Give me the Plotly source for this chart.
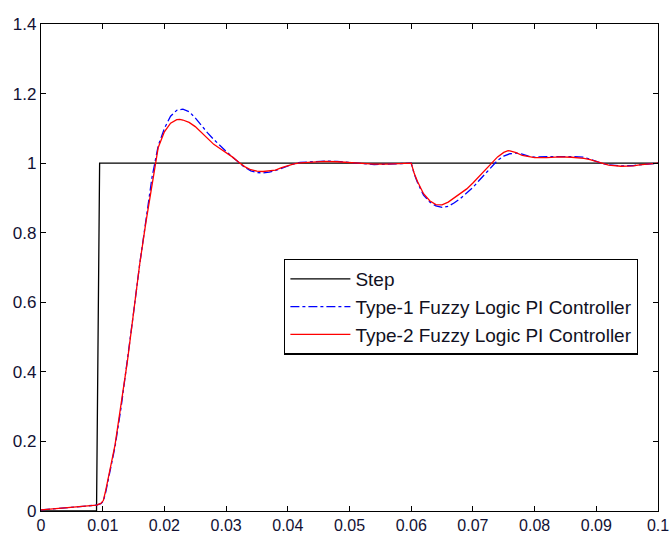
import plotly.graph_objects as go

# ---- data ----
step_t = [0.0, 0.0090, 0.0095, 0.1]
step_v = [0.0, 0.0, 1.0, 1.0]

t2_t = [0.0, 0.005, 0.009, 0.0097, 0.0101, 0.0105, 0.011, 0.012, 0.013, 0.014,
        0.015, 0.016, 0.017, 0.018, 0.0185, 0.019, 0.020, 0.021, 0.022, 0.0225,
        0.023, 0.024, 0.025, 0.026, 0.027, 0.028, 0.029, 0.030, 0.031, 0.032,
        0.033, 0.034, 0.035, 0.036, 0.037, 0.038, 0.039, 0.040, 0.041, 0.042,
        0.044, 0.046, 0.048, 0.050, 0.052, 0.054, 0.056, 0.058, 0.0595, 0.060,
        0.0605, 0.061, 0.062, 0.063, 0.064, 0.0645, 0.065, 0.066, 0.067, 0.068,
        0.069, 0.070, 0.071, 0.072, 0.073, 0.074, 0.075, 0.0757, 0.076, 0.077,
        0.078, 0.079, 0.080, 0.082, 0.084, 0.086, 0.088, 0.089, 0.090, 0.091,
        0.092, 0.094, 0.095, 0.096, 0.097, 0.098, 0.1]
t2_v = [0.003, 0.01, 0.017, 0.022, 0.03, 0.06, 0.10, 0.19, 0.31, 0.43,
        0.57, 0.71, 0.83, 0.94, 1.0, 1.045, 1.09, 1.115, 1.125, 1.126,
        1.124, 1.117, 1.105, 1.088, 1.07, 1.054, 1.042, 1.031, 1.018, 1.003,
        0.99, 0.981, 0.977, 0.976, 0.977, 0.980, 0.987, 0.993, 0.998, 1.001,
        1.004, 1.005, 1.004, 1.001, 0.998, 0.997, 0.997, 0.998, 0.999, 1.0,
        0.97, 0.948, 0.912, 0.892, 0.881, 0.8795, 0.880, 0.888, 0.900, 0.913,
        0.926, 0.943, 0.962, 0.982, 1.002, 1.018, 1.031, 1.036, 1.035, 1.03,
        1.022, 1.018, 1.016, 1.016, 1.018, 1.017, 1.014, 1.01, 1.004, 0.998,
        0.994, 0.991, 0.991, 0.992, 0.995, 0.997, 1.0]

t1_t = [0.0, 0.005, 0.009, 0.0097, 0.0101, 0.0105, 0.011, 0.012, 0.013, 0.014,
        0.015, 0.016, 0.017, 0.018, 0.019, 0.020, 0.021, 0.022, 0.023, 0.024,
        0.025, 0.026, 0.027, 0.028, 0.029, 0.030, 0.031, 0.032, 0.033, 0.034,
        0.035, 0.036, 0.037, 0.038, 0.039, 0.040, 0.041, 0.042, 0.044, 0.046,
        0.048, 0.050, 0.052, 0.054, 0.056, 0.058, 0.0595, 0.060, 0.0605, 0.061,
        0.062, 0.063, 0.064, 0.065, 0.066, 0.067, 0.068, 0.069, 0.070, 0.071,
        0.072, 0.073, 0.074, 0.075, 0.076, 0.077, 0.078, 0.079, 0.080, 0.082,
        0.084, 0.086, 0.088, 0.089, 0.090, 0.091, 0.092, 0.094, 0.095, 0.096,
        0.097, 0.098, 0.1]
t1_v = [0.003, 0.01, 0.017, 0.021, 0.028, 0.055, 0.095, 0.185, 0.30, 0.43,
        0.57, 0.71, 0.84, 0.96, 1.05, 1.10, 1.135, 1.152, 1.155, 1.148,
        1.13, 1.108, 1.087, 1.068, 1.05, 1.034, 1.018, 1.002, 0.988, 0.978,
        0.973, 0.972, 0.974, 0.979, 0.986, 0.993, 0.998, 1.002, 1.005, 1.006,
        1.005, 1.002, 0.998, 0.996, 0.997, 0.998, 0.999, 1.0, 0.968, 0.945,
        0.908, 0.888, 0.877, 0.873, 0.876, 0.886, 0.899, 0.914, 0.93, 0.95,
        0.97, 0.99, 1.008, 1.02, 1.027, 1.029, 1.026, 1.02, 1.017, 1.019,
        1.02, 1.019, 1.017, 1.012, 1.005, 0.999, 0.995, 0.992, 0.992, 0.993,
        0.995, 0.997, 1.0]

x_ticks = [0, 0.01, 0.02, 0.03, 0.04, 0.05, 0.06, 0.07, 0.08, 0.09, 0.1]
x_labels = ["0", "0.01", "0.02", "0.03", "0.04", "0.05", "0.06", "0.07", "0.08", "0.09", "0.1"]
y_ticks = [0, 0.2, 0.4, 0.6, 0.8, 1.0, 1.2, 1.4]
y_labels = ["0", "0.2", "0.4", "0.6", "0.8", "1", "1.2", "1.4"]

FONT = "Liberation Sans, Arial, sans-serif"

fig = go.Figure()
fig.add_trace(go.Scatter(x=step_t, y=step_v, mode="lines", name="Step",
                         line=dict(color="black", width=1.3)))
fig.add_trace(go.Scatter(x=t1_t, y=t1_v, mode="lines", name="Type-1 Fuzzy Logic PI Controller",
                         line=dict(color="#0000ff", width=1.3, dash="dashdot")))
fig.add_trace(go.Scatter(x=t2_t, y=t2_v, mode="lines", name="Type-2 Fuzzy Logic PI Controller",
                         line=dict(color="#ff0000", width=1.3)))

axis_common = dict(showgrid=False, zeroline=False, showline=True, linecolor="black",
                   linewidth=1.3, mirror="allticks", ticks="inside", ticklen=5,
                   tickcolor="black", tickwidth=1.3, automargin=False)

fig.update_xaxes(range=[0, 0.1], tickvals=x_ticks, ticktext=x_labels,
                 tickfont=dict(family=FONT, size=16, color="#111133"), **axis_common)
fig.update_yaxes(range=[0, 1.4], tickvals=y_ticks, ticktext=y_labels,
                 tickfont=dict(family=FONT, size=17, color="#111133"), **axis_common)

fig.update_layout(
    width=671, height=533,
    margin=dict(l=41, r=13, t=24, b=22),
    plot_bgcolor="white", paper_bgcolor="white",
    font=dict(family=FONT, size=17, color="black"),
    legend=dict(x=0.394, y=0.518, xanchor="left", yanchor="top",
                bgcolor="white", bordercolor="black", borderwidth=1.3,
                font=dict(family=FONT, size=19, color="#111122"),
                tracegroupgap=0, itemwidth=60),
    showlegend=True,
)

fig.write_html("out.html")
